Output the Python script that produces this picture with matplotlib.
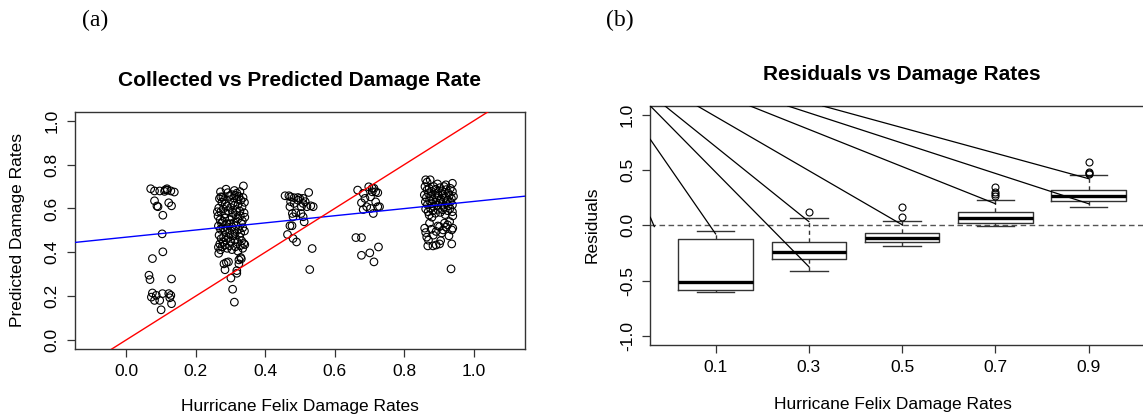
import matplotlib
matplotlib.use('Agg')
import matplotlib.pyplot as plt

plt.rcParams['font.family'] = ['Liberation Sans', 'DejaVu Sans']

# ---- panel (a): collected vs predicted damage rate (jittered points) ----
x_01 = [.070, .081, .096, .112, .117, .128, .138, .081, .088, .091, .122, .130, .105, .103, .105, .075,
        .065, .068, .130, .075, .072, .081, .096, .104, .122, .128, .125, .100, .130, .086, .118, .110]
y_01 = [.690, .680, .680, .685, .690, .680, .675, .635, .611, .608, .626, .612, .569, .484, .402, .371,
        .295, .275, .278, .214, .195, .180, .180, .211, .211, .203, .192, .137, .165, .203, .684, .678]

x_03 = [.287, .337, .311, .278, .272, .301, .306, .311, .284, .281, .288, .294, .318, .318, .324, .329, .324,
        .265, .271, .266, .331,
        .268, .275, .282, .290, .296, .303, .309, .314, .319, .324, .330, .336, .340,
        .266, .272, .279, .286, .293, .300, .306, .312, .317, .322, .327, .333, .339,
        .264, .270, .277, .283, .289, .297, .304, .310, .315, .321, .328, .334, .341,
        .265, .271, .278, .284, .291, .298, .305, .311, .316, .323, .329, .335, .340,
        .267, .273, .280, .287, .294, .301, .307, .313, .320, .326, .332, .338,
        .269, .276, .283, .290, .297, .304, .314, .321, .328, .335, .341,
        .271, .292, .318, .327, .308, .285, .262, .331, .274, .300, .313, .279]
y_03 = [.688, .703, .682, .653, .653, .282, .231, .172, .320, .347, .353, .356, .304, .316, .365, .376, .347,
        .423, .411, .395, .370,
        .645, .628, .640, .612, .655, .663, .648, .660, .642, .655, .638, .650, .628,
        .602, .585, .598, .575, .590, .605, .582, .615, .595, .620, .588, .607, .580,
        .565, .548, .540, .556, .530, .548, .560, .535, .571, .552, .567, .543, .560,
        .520, .505, .512, .495, .508, .490, .515, .500, .522, .505, .488, .512, .497,
        .478, .462, .470, .455, .468, .450, .475, .458, .446, .470, .452, .440,
        .438, .425, .432, .418, .430, .412, .425, .405, .430, .418, .435,
        .676, .672, .670, .677, .625, .620, .585, .532, .532, .530, .485, .445]

x_05 = [.457, .468, .473, .483, .494, .499, .509, .525, .473, .483, .494, .509, .520, .531, .538, .471,
        .478, .480, .488, .509, .512, .464, .471, .477, .480, .490, .535, .528, .504, .515, .503]
y_05 = [.658, .658, .653, .649, .650, .646, .646, .673, .631, .623, .638, .623, .608, .612, .608, .608,
        .577, .562, .580, .562, .539, .481, .521, .521, .463, .447, .417, .321, .608, .631, .577]

x_07 = [.666, .682, .698, .708, .713, .718, .724, .703, .687, .677, .692, .724, .718, .682, .703, .711,
        .729, .661, .677, .677, .701, .713, .726, .708]
y_07 = [.684, .669, .699, .692, .692, .676, .672, .653, .646, .626, .608, .608, .630, .595, .600, .577,
        .608, .467, .467, .386, .397, .356, .424, .676]

x_09 = [.860, .866, .872, .879, .885, .891, .897, .903, .909, .915, .921, .927, .933, .939,
        .858, .864, .870, .876, .882, .888, .894, .900, .906, .912, .918, .924, .930, .936, .942,
        .861, .867, .873, .879, .885, .891, .897, .903, .909, .915, .921, .927, .933, .939,
        .862, .869, .876, .883, .890, .897, .904, .911, .918, .925, .932, .939,
        .862, .875, .939, .866, .896, .920, .880, .872,
        .859, .865, .873, .902, .916, .931, .940, .940, .929, .937, .868, .883, .892, .902,
        .905, .892, .912, .937, .862, .878, .884, .897, .921, .870, .935, .925, .908]
y_09 = [.700, .685, .692, .678, .700, .688, .672, .695, .680, .700, .686, .670, .692, .678,
        .662, .650, .668, .655, .640, .662, .648, .658, .642, .664, .650, .638, .660, .646, .655,
        .630, .618, .635, .622, .610, .628, .615, .632, .618, .605, .626, .612, .630, .616,
        .598, .585, .600, .590, .578, .596, .582, .594, .572, .590, .600, .585,
        .731, .731, .715, .720, .712, .708, .560, .570,
        .510, .469, .533, .517, .533, .540, .566, .510, .475, .438, .429, .429, .433, .438,
        .453, .495, .502, .502, .490, .505, .478, .520, .515, .455, .324, .525, .488]

# fitted line (blue) and identity line (red)
fit_intercept = 0.469
fit_slope = 0.163

# ---- panel (b): residual boxplots by damage-rate class ----
rate_labels = ['0.1', '0.3', '0.5', '0.7', '0.9']
res_whislo = [-0.602, -0.412, -0.183, -0.005, 0.164]
res_q1 = [-0.587, -0.303, -0.149, 0.023, 0.222]
res_med = [-0.515, -0.240, -0.117, 0.064, 0.261]
res_q3 = [-0.119, -0.153, -0.071, 0.116, 0.318]
res_whishi = [-0.047, 0.064, 0.040, 0.231, 0.451]
res_fliers = [[], [0.116], [0.077, 0.164], [0.265, 0.28, 0.30, 0.345], [0.468, 0.472, 0.478, 0.568]]

# stray line segments drawn over the boxplot
seg_x0 = [0.3, 0.3, 0.457, 0.804, 1.369, 1.773, 2.148, 0.3]
seg_y0 = [0.776, 1.078, 1.078, 1.078, 1.078, 1.078, 1.078, 0.073]
seg_x1 = [1.0, 2.0, 2.0, 3.0, 4.0, 5.0, 5.0, 0.343]
seg_y1 = [-0.077, -0.373, 0.034, 0.005, 0.195, 0.195, 0.421, -0.011]

W, H = 1143, 417
fig = plt.figure(figsize=(W / 100, H / 100), dpi=100)


def frame(ax):
    for s in ax.spines.values():
        s.set_color('#333333')
        s.set_linewidth(1.0)
    ax.tick_params(direction='out', length=6, width=0.9, color='#333333',
                   labelsize=12.5, pad=5)
    for lab in ax.get_yticklabels():
        lab.set_rotation(90)
        lab.set_va('center')


# panel (a)
ax1 = fig.add_axes([75 / W, 1 - 349 / H, 450 / W, (349 - 111.7) / H])
for xs, ys in [(x_01, y_01), (x_03, y_03), (x_05, y_05), (x_07, y_07), (x_09, y_09)]:
    ax1.scatter(xs, ys, s=30, facecolors='none', edgecolors='black', linewidths=0.8, zorder=3)
xl = [-0.2, 1.2]
ax1.plot(xl, [fit_intercept + fit_slope * v for v in xl], color='blue', lw=1.0, zorder=4)
ax1.plot(xl, xl, color='red', lw=1.0, zorder=4)
ax1.set_xlim(-0.148, 1.148)
ax1.set_ylim(-0.042, 1.042)
ax1.set_xticks([0.0, 0.2, 0.4, 0.6, 0.8, 1.0])
ax1.set_yticks([0.0, 0.2, 0.4, 0.6, 0.8, 1.0])
ax1.set_xticklabels(['0.0', '0.2', '0.4', '0.6', '0.8', '1.0'])
ax1.set_yticklabels(['0.0', '0.2', '0.4', '0.6', '0.8', '1.0'])
frame(ax1)

# panel (b)
ax2 = fig.add_axes([650.3 / W, 1 - 345 / H, (1154 - 650.3) / W, (345 - 105.7) / H])
stats = []
for i in range(len(rate_labels)):
    stats.append({'whislo': res_whislo[i], 'q1': res_q1[i], 'med': res_med[i],
                  'q3': res_q3[i], 'whishi': res_whishi[i], 'fliers': res_fliers[i]})
ax2.axhline(0, color='#555555', lw=1.0, dashes=(4, 2.5), zorder=1)
ax2.bxp(stats, positions=[1, 2, 3, 4, 5], widths=0.8, capwidths=0.4, showfliers=True,
        boxprops=dict(color='#333333', lw=1.0),
        whiskerprops=dict(color='#333333', lw=1.0, linestyle=(0, (3, 2.5))),
        capprops=dict(color='#333333', lw=1.0),
        medianprops=dict(color='black', lw=2.4, solid_capstyle='butt'),
        flierprops=dict(marker='o', markersize=5, markerfacecolor='none',
                        markeredgecolor='black', markeredgewidth=0.8))
for i in range(len(seg_x0)):
    ax2.plot([seg_x0[i], seg_x1[i]], [seg_y0[i], seg_y1[i]], color='black', lw=0.9, zorder=5)
ax2.set_xlim(0.3, 5.7)
ax2.set_ylim(-1.08, 1.08)
ax2.set_xticks([1, 2, 3, 4, 5])
ax2.set_xticklabels(rate_labels)
ax2.set_yticks([-1.0, -0.5, 0.0, 0.5, 1.0])
ax2.set_yticklabels(['-1.0', '-0.5', '0.0', '0.5', '1.0'])
frame(ax2)

# titles and labels placed in pixel positions like the original
def ftext(x, y, s, **kw):
    fig.text(x / W, 1 - y / H, s, ha='center', va='center', **kw)

ftext(300, 80, 'Collected vs Predicted Damage Rate', fontsize=15, fontweight='bold')
ftext(902, 75, 'Residuals vs Damage Rates', fontsize=15, fontweight='bold')
ftext(300, 406, 'Hurricane Felix Damage Rates', fontsize=12.5)
ftext(893, 405, 'Hurricane Felix Damage Rates', fontsize=12.5)
ftext(18, 230, 'Predicted Damage Rates', fontsize=12.5, rotation=90)
ftext(592, 225, 'Residuals', fontsize=12.5, rotation=90)
ftext(95, 20, '(a)', fontsize=17, family=['Liberation Serif', 'DejaVu Serif'])
ftext(620, 20, '(b)', fontsize=17, family=['Liberation Serif', 'DejaVu Serif'])

fig.savefig('out.png', dpi=100)
